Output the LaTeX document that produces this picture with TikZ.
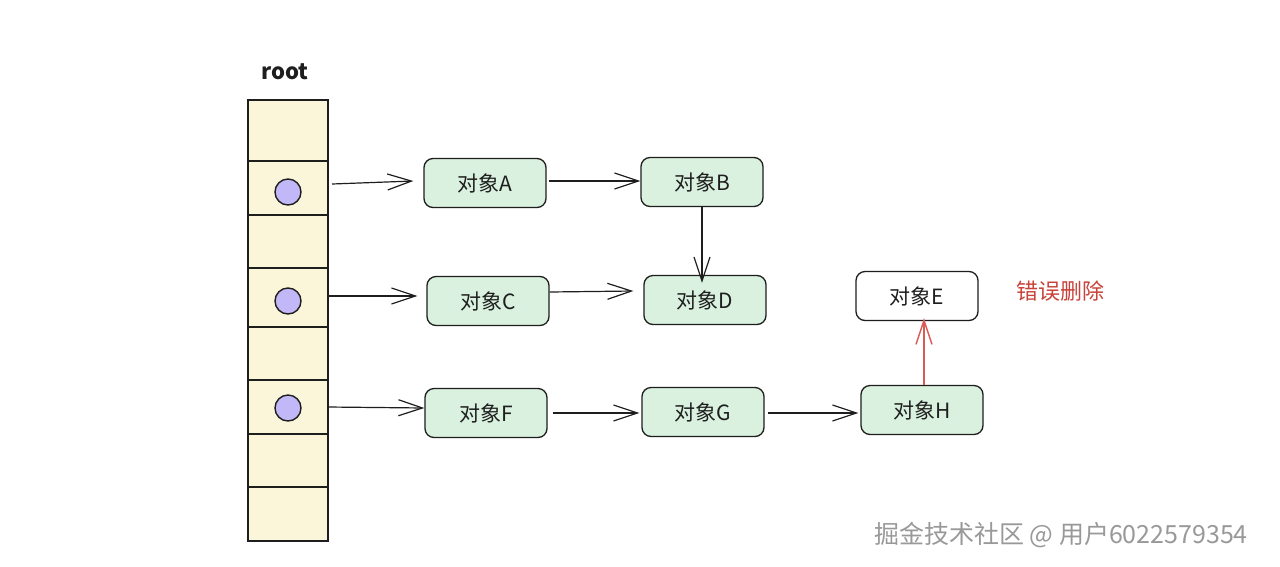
\documentclass[tikz,border=0pt]{standalone}
\usepackage{fontspec}
\setmainfont{Noto Sans CJK SC}
\newfontfamily\cjk{Noto Sans CJK SC}
\usetikzlibrary{arrows.meta,patterns}
\definecolor{cellfill}{HTML}{FBF6DA}
\definecolor{boxfill}{HTML}{D9F1DE}
\definecolor{dotfill}{HTML}{C3B8F7}
\definecolor{redtxt}{HTML}{C8423A}
\definecolor{redarrow}{HTML}{DA5A55}
\definecolor{ink}{HTML}{1E1E1E}
\tikzset{
  cell/.style={draw=ink, line width=1.4pt, fill=cellfill, minimum width=80pt, inner sep=0pt, outer sep=0pt},
  dot/.style={circle, draw=ink, line width=1.4pt, fill=dotfill, minimum size=26pt, inner sep=0pt},
  obj/.style={draw=ink, line width=1.3pt, fill=boxfill, rounded corners=9pt, minimum width=122pt, minimum height=49pt, inner sep=0pt, font=\fontsize{21}{24}\selectfont, text=ink},
  objw/.style={obj, fill=white},
  link/.style={draw=ink, line width=1.2pt, -{Straight Barb[length=24pt,width=16pt,line width=1.2pt]}},
  redlink/.style={draw=redarrow, line width=1.4pt, -{Straight Barb[length=24pt,width=16pt,line width=1.4pt]}},
}
\begin{document}
\begin{tikzpicture}[x=1pt,y=-1pt]
\useasboundingbox (0,0) rectangle (1280,566);
\fill[white] (0,0) rectangle (1280,566);
% root label
\node[font=\fontsize{22}{24}\selectfont\bfseries, text=ink] (rootlbl) at (285,72) {root};
% root column cells
\node[cell, minimum height=61pt] (c1) at (288,130.5) {};
\node[cell, minimum height=54pt] (c2) at (288,188) {};
\node[cell, minimum height=53pt] (c3) at (288,241.5) {};
\node[cell, minimum height=59pt] (c4) at (288,297.5) {};
\node[cell, minimum height=53pt] (c5) at (288,353.5) {};
\node[cell, minimum height=54pt] (c6) at (288,407) {};
\node[cell, minimum height=53pt] (c7) at (288,460.5) {};
\node[cell, minimum height=54pt] (c8) at (288,514) {};
% dots
\node[dot] (d1) at (288,192) {};
\node[dot] (d2) at (288,301) {};
\node[dot] (d3) at (288,408) {};
% objects
\node[obj] (A) at (485,183) {对象A};
\node[obj] (B) at (702,182) {对象B};
\node[obj] (C) at (488,301) {对象C};
\node[obj] (D) at (705,300) {对象D};
\node[objw] (E) at (917,296) {对象E};
\node[obj] (F) at (486,413) {对象F};
\node[obj] (G) at (703,412) {对象G};
\node[obj] (H) at (922,410) {对象H};
% red label
\node[font=\fontsize{22}{24}\selectfont, text=redtxt] (lbl) at (1060,291) {错误删除};
% arrows
\draw[link] ([xshift=4pt]c2.east |- 0,184) -- ([xshift=-10pt]A.west |- 0,181);
\draw[link] (c4.east |- 0,296) -- ([xshift=-9pt]C.west |- 0,296);
\draw[link] (c6.east |- 0,407) -- (F.west |- 0,408);
\draw[link] ([xshift=2pt]A.east |- 0,181) -- (B.west |- 0,181);
\draw[link] (B.south) -- ([yshift=-8pt]D.north -| B.south);
\draw[link] (C.east |- 0,292) -- ([xshift=-10pt]D.west |- 0,291);
\draw[link] ([xshift=5pt]F.east |- 0,413) -- ([xshift=-2pt]G.west |- 0,413);
\draw[link] ([xshift=3pt]G.east |- 0,413) -- ([xshift=-2pt]H.west |- 0,413);
\draw[redlink] (H.north -| 924,0) -- ([yshift=3pt]E.south -| 924,0);
% watermark
\node[font=\fontsize{25}{28}\selectfont, text=white, anchor=center] (wm2) at (1062.5,537) {掘金技术社区 @ 用户6022579354};
\node[font=\fontsize{25}{28}\selectfont, text=black!40, anchor=center] (wm) at (1061,535.5) {掘金技术社区 @ 用户6022579354};
\end{tikzpicture}
\end{document}
